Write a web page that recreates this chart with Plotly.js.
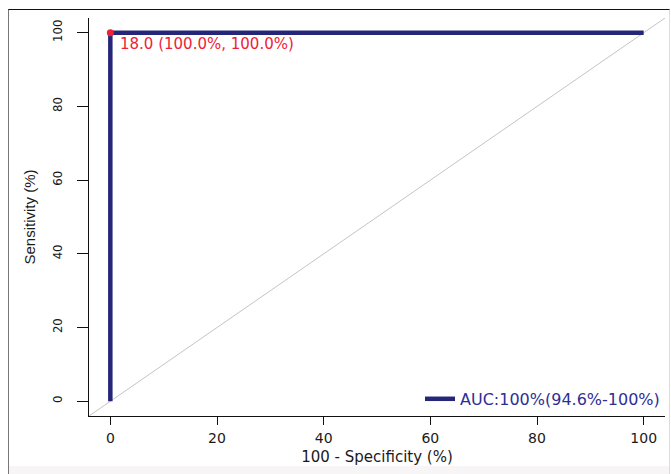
<!DOCTYPE html>
<html>
<head>
<meta charset="utf-8">
<script src="https://cdn.plot.ly/plotly-3.0.1.min.js"></script>
<style>
  html, body { margin: 0; padding: 0; background: #fff; }
  #wrap { position: relative; width: 671px; height: 474px; overflow: hidden; background: #fff; }
  #chart { position: absolute; left: 0; top: 0; width: 671px; height: 474px; }
  #frame { position: absolute; left: 8px; top: 9px; width: 660px; height: 470px;
           border-top: 1px solid #111; border-left: 1px solid #777; border-right: 1px solid #ddd;
           pointer-events: none; }
  #band { position: absolute; left: 9px; top: 466px; width: 660px; height: 8px; background: #f7f5f6; pointer-events: none; }
</style>
</head>
<body>
<div id="wrap">
  <div id="chart"></div>
  <div id="band"></div>
  <div id="frame"></div>
</div>
<script>
// ROC curve points: 100 - Specificity (%) vs Sensitivity (%)
const fpr = [0, 0, 100];
const sensitivity = [0, 100, 100];
// Best threshold point
const bestFpr = [0];
const bestSens = [100];
const bestLabel = "18.0 (100.0%, 100.0%)";
// Chance (identity) line spans the axis range
const axisRange = [-4, 104];
const tickValues = [0, 20, 40, 60, 80, 100];
const tickLabels = ["0", "20", "40", "60", "80", "100"];
const legendLabel = "AUC:100%(94.6%-100%)";

const navy = "#262678";
const red = "#ee2236";

const traces = [
  {
    x: axisRange, y: axisRange, mode: "lines", type: "scatter",
    line: { color: "#c4c4c4", width: 1 }, showlegend: false, hoverinfo: "skip"
  },
  {
    x: fpr, y: sensitivity, mode: "lines", type: "scatter",
    line: { color: navy, width: 4.5 }, name: legendLabel, showlegend: true
  },
  {
    x: bestFpr, y: bestSens, mode: "markers", type: "scatter",
    marker: { color: red, size: 7 }, showlegend: false
  }
];

const layout = {
  width: 671, height: 474,
  margin: { l: 89, r: 6, t: 18, b: 58 },
  paper_bgcolor: "rgba(0,0,0,0)",
  plot_bgcolor: "#fff",
  showlegend: true,
  legend: {
    x: 1.0, xanchor: "right", y: 0.043, yanchor: "middle",
    bgcolor: "rgba(0,0,0,0)",
    font: { family: "DejaVu Sans", size: 16, color: "#2e2e94" }
  },
  xaxis: {
    range: axisRange, tickvals: tickValues, ticktext: tickLabels,
    showgrid: false, zeroline: false, showline: true, linecolor: "#111", linewidth: 1,
    ticks: "outside", ticklen: 8, tickcolor: "#111",
    tickfont: { family: "DejaVu Sans", size: 14, color: "#1a1a1a" },
    ticklabelstandoff: 1,
    title: { text: "100 - Specificity (%)", font: { family: "DejaVu Sans", size: 15, color: "#1a1a1a" }, standoff: 6 }
  },
  yaxis: {
    range: axisRange, tickvals: tickValues, ticktext: tickLabels,
    showgrid: false, zeroline: false, showline: true, linecolor: "#111", linewidth: 1,
    ticks: "outside", ticklen: 11, tickcolor: "#111", tickangle: -90,
    tickfont: { family: "Liberation Sans Narrow, DejaVu Sans Condensed, Liberation Sans", size: 13, color: "#1a1a1a" },
    ticklabelstandoff: 10,
    title: { text: "Sensitivity (%)", font: { family: "Liberation Sans Narrow, Liberation Sans", size: 15, color: "#1a1a1a" }, standoff: 10 }
  },
  annotations: [
    {
      x: bestFpr[0], y: bestSens[0], xref: "x", yref: "y",
      text: bestLabel, showarrow: false, xanchor: "left", yanchor: "middle",
      xshift: 8, yshift: -11,
      font: { family: "DejaVu Sans", size: 15, color: red }
    }
  ]
};

Plotly.newPlot("chart", traces, layout, { displayModeBar: false, staticPlot: true });
</script>
</body>
</html>
